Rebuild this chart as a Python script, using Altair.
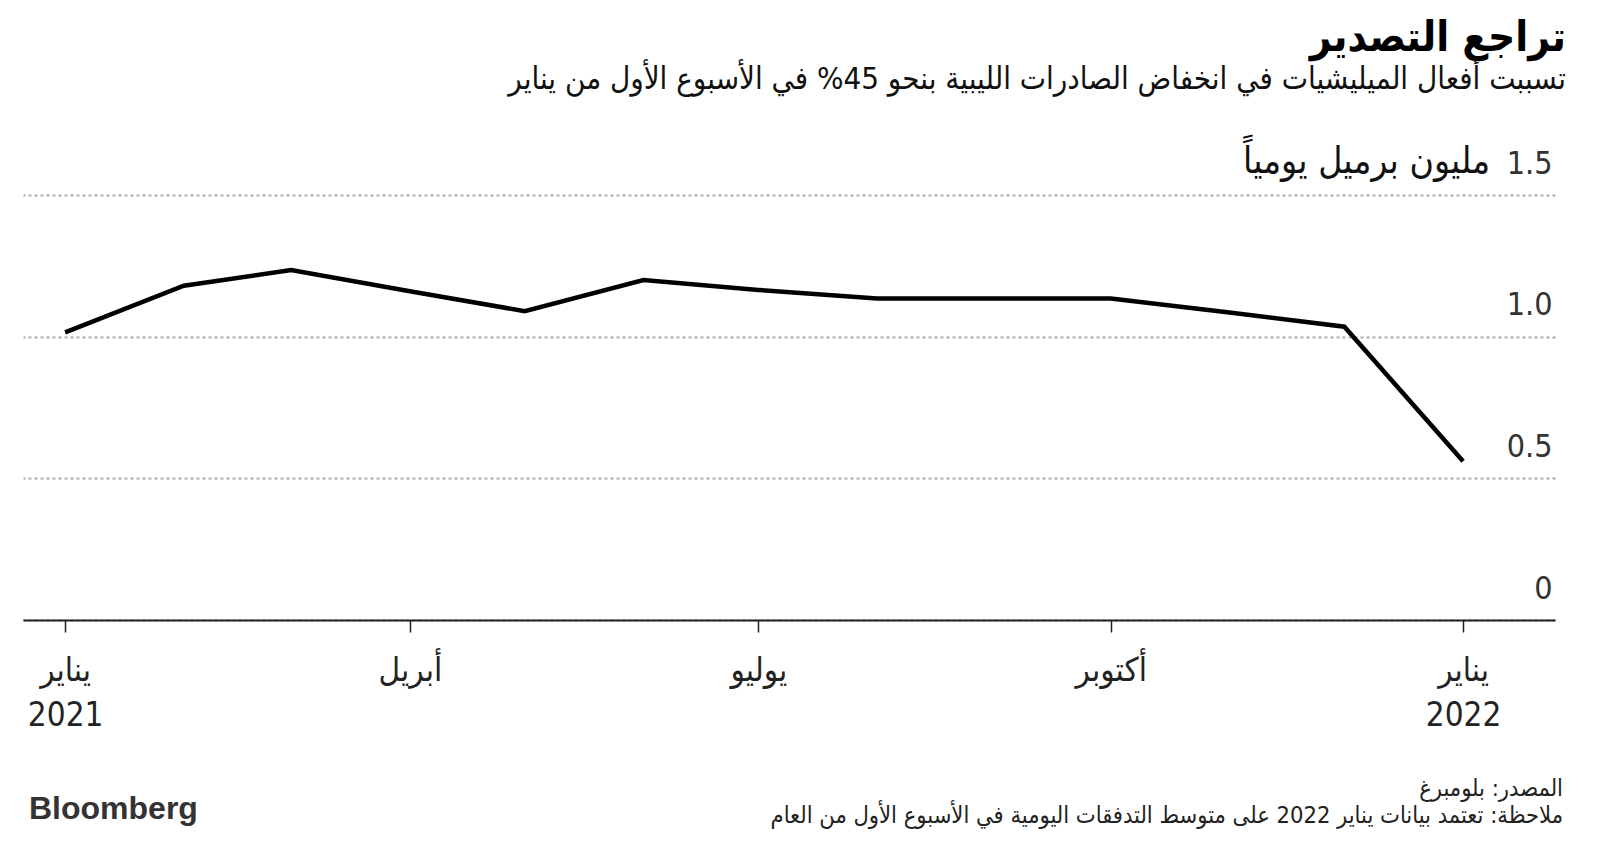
import altair as alt
import pandas as pd

# ---- data ----
dates = ["2021-01-01", "2021-02-01", "2021-03-01", "2021-04-01", "2021-05-01",
         "2021-06-01", "2021-07-01", "2021-08-01", "2021-09-01", "2021-10-01",
         "2021-11-01", "2021-12-01", "2022-01-01"]
exports = [1.015, 1.18, 1.235, 1.16, 1.09, 1.20, 1.165, 1.135, 1.135, 1.135,
           1.085, 1.035, 0.56]

y_ticks = [0, 0.5, 1.0, 1.5]
month_names = {0: "يناير", 3: "أبريل", 6: "يوليو", 9: "أكتوبر"}
tick_months = [(2021, 1), (2021, 4), (2021, 7), (2021, 10), (2022, 1)]

title_text = "تراجع التصدير"
subtitle_text = "تسببت أفعال الميليشيات في انخفاض الصادرات الليبية بنحو 45% في الأسبوع الأول من يناير"
unit_text = "مليون برميل يومياً"
source_text = "المصدر: بلومبرغ"
note_text = "ملاحظة: تعتمد بيانات يناير 2022 على متوسط التدفقات اليومية في الأسبوع الأول من العام"
brand_text = "Bloomberg"

df = pd.DataFrame({"date": dates, "value": exports})

W, H = 1532, 425
FONT = "DejaVu Sans Condensed"

label_expr = (
    "utcmonth(datum.value) == 0 ? ['" + month_names[0] + "', '' + utcyear(datum.value)] : "
    "utcmonth(datum.value) == 3 ? '" + month_names[3] + "' : "
    "utcmonth(datum.value) == 6 ? '" + month_names[6] + "' : '" + month_names[9] + "'"
)

x_scale = alt.Scale(
    type="utc",
    domain=[alt.DateTime(year=2020, month=12, date=21, utc=True),
            alt.DateTime(year=2022, month=1, date=25, utc=True)],
)
y_scale = alt.Scale(domain=[0, 1.5], nice=False, zero=True)

line = alt.Chart(df).mark_line(color="#000000", strokeWidth=4.5, strokeJoin="miter").encode(
    x=alt.X(
        "date:T",
        scale=x_scale,
        axis=alt.Axis(
            title=None,
            values=[alt.DateTime(year=y, month=m, date=1, utc=True) for y, m in tick_months],
            labelExpr=label_expr,
            grid=False,
            domainColor="#222222",
            domainWidth=2,
            tickColor="#222222",
            tickWidth=1.5,
            tickSize=12,
            labelFont=FONT,
            labelFontSize=33,
            labelColor="#222222",
            labelPadding=22,
            labelLineHeight=45,
            labelBaseline="top",
        ),
    ),
    y=alt.Y(
        "value:Q",
        scale=y_scale,
        axis=alt.Axis(
            title=None,
            orient="right",
            values=y_ticks,
            labelExpr="datum.value == 0 ? '0' : format(datum.value, '.1f')",
            domain=False,
            ticks=False,
            labelAlign="right",
            labelPadding=-3,
            labelBaseline="alphabetic",
            labelOffset=-22,
            labelFont=FONT,
            labelFontSize=32,
            labelColor="#333333",
            grid=True,
            gridDash=[3, 3],
            gridColor="#aaaaaa",
            gridWidth=2,
        ),
    ),
)

unit = alt.Chart(pd.DataFrame({"t": [unit_text], "v": [1.5]})).mark_text(
    align="right", baseline="alphabetic", font=FONT, fontSize=37, color="#111111", dy=-22
).encode(
    x=alt.value(1490 - 23),
    y=alt.Y("v:Q", scale=y_scale),
    text="t:N",
)

source = alt.Chart(pd.DataFrame({"t": [source_text]})).mark_text(
    align="right", baseline="middle", font=FONT, fontSize=23.5, color="#222222"
).encode(x=alt.value(1563 - 23), y=alt.value(789 - 195), text="t:N")

note = alt.Chart(pd.DataFrame({"t": [note_text]})).mark_text(
    align="right", baseline="middle", font=FONT, fontSize=23.5, color="#222222"
).encode(x=alt.value(1563 - 23), y=alt.value(816 - 195), text="t:N")

brand = alt.Chart(pd.DataFrame({"t": [brand_text]})).mark_text(
    align="left", baseline="middle", font="Liberation Sans", fontSize=32,
    fontWeight="bold", color="#333333"
).encode(x=alt.value(29 - 23), y=alt.value(809 - 195), text="t:N")

chart = alt.layer(line, unit, source, note, brand).properties(
    width=W,
    height=H,
    title=alt.TitleParams(
        text=title_text,
        subtitle=subtitle_text,
        anchor="end",
        orient="top",
        dx=3,
        offset=47,
        font=FONT,
        fontSize=42,
        fontWeight="bold",
        color="#000000",
        subtitleFont=FONT,
        subtitleFontSize=31,
        subtitleColor="#111111",
        subtitlePadding=5,
    ),
    autosize=alt.AutoSizeParams(type="none"),
    padding={"left": 23, "top": 195, "right": 45, "bottom": 225},
    background="#ffffff",
).configure_view(stroke=None)

chart.save("out.html", embed_options={"renderer": "svg", "actions": False})
